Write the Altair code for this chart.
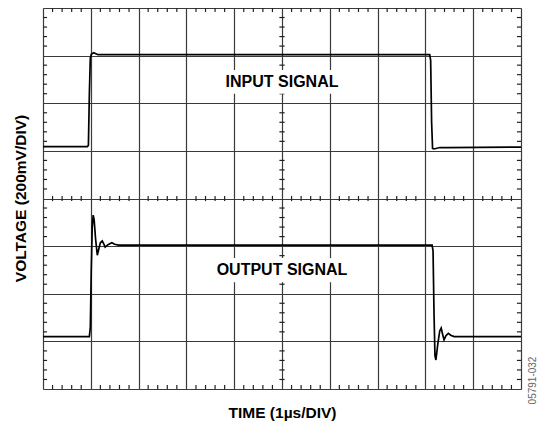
import altair as alt
import pandas as pd

# Input trace: time (divisions), voltage (divisions)
in_t = [0.0, 0.93, 0.95, 0.97, 0.99, 1.01, 1.06, 1.15, 8.09, 8.11, 8.13, 8.15, 8.18, 8.3, 8.45, 10.0]
in_v = [1.09, 1.09, 1.12, 2.2, 2.95, 3.03, 3.06, 3.02, 3.02, 2.9, 1.6, 1.05, 1.04, 1.07, 1.07, 1.08]

# Output trace
out_t = [0.0, 0.97, 0.99, 1.01, 1.03, 1.05, 1.07, 1.10, 1.136, 1.17, 1.20, 1.24, 1.27, 1.30, 1.36,
         1.44, 1.50, 1.58, 8.14, 8.16, 8.18, 8.20, 8.22, 8.26, 8.30, 8.33, 8.36, 8.39, 8.43, 8.48,
         8.53, 8.60, 10.0]
out_v = [-2.9, -2.9, -2.7, -1.5, -0.6, -0.35, -0.45, -0.85, -1.19, -1.05, -0.93, -0.89, -0.95, -1.02,
         -0.97, -0.93, -0.96, -0.98, -0.98, -1.1, -2.4, -3.3, -3.39, -3.05, -2.78, -2.72, -2.85, -2.97,
         -2.88, -2.83, -2.87, -2.9, -2.9]

label_text = ["INPUT SIGNAL", "OUTPUT SIGNAL"]
label_t = [5.0, 5.0]
label_v = [2.44, -1.5]
# white boxes behind the labels (data units)
box_t1 = [3.65, 3.55]
box_t2 = [6.35, 6.45]
box_v1 = [2.2, -1.25]
box_v2 = [2.7, -1.76]

x_major = list(range(0, 11))
y_major = list(range(-4, 5))

# minor graticule ticks (5 per division)
x_minor = [i / 5 for i in range(1, 50) if i % 5]
y_minor = [j / 5 for j in range(-19, 20) if j % 5]
L = 0.085   # edge tick length (div)
C = 0.055   # centre tick half-length (div)

rows = []
for x in x_minor:
    rows.append({"x": x, "x2": x, "y": 4, "y2": 4 - L})
    rows.append({"x": x, "x2": x, "y": -4, "y2": -4 + L})
    rows.append({"x": x, "x2": x, "y": -C, "y2": C})
for y in y_minor:
    rows.append({"x": 0, "x2": L, "y": y, "y2": y})
    rows.append({"x": 10, "x2": 10 - L, "y": y, "y2": y})
    rows.append({"x": 5 - C, "x2": 5 + C, "y": y, "y2": y})
ticks_df = pd.DataFrame(rows)

in_df = pd.DataFrame({"t": in_t, "v": in_v, "i": range(len(in_t))})
out_df = pd.DataFrame({"t": out_t, "v": out_v, "i": range(len(out_t))})
lab_df = pd.DataFrame({"t": label_t, "v": label_v, "text": label_text})
box_df = pd.DataFrame({"t1": box_t1, "t2": box_t2, "v1": box_v1, "v2": box_v2})

xs = alt.Scale(domain=[0, 10], nice=False)
ys = alt.Scale(domain=[-4, 4], nice=False)

FONT = "Liberation Sans"

grid_layer = alt.Chart(ticks_df).mark_rule(color="#222", strokeWidth=1.2).encode(
    x=alt.X("x:Q", scale=xs, axis=alt.Axis(
        values=x_major, grid=True, gridColor="#3a3a3a", gridWidth=1.2, gridOpacity=1,
        labels=False, ticks=False, domain=False,
        title="TIME (1µs/DIV)", titleFont=FONT, titleFontSize=15.5, titleFontWeight="bold",
        titleColor="#000", titleX=239, titleY=23, titleAlign="center", titleBaseline="middle")),
    x2="x2:Q",
    y=alt.Y("y:Q", scale=ys, axis=alt.Axis(
        values=y_major, grid=True, gridColor="#3a3a3a", gridWidth=1.2, gridOpacity=1,
        labels=False, ticks=False, domain=False,
        title="VOLTAGE (200mV/DIV)", titleFont=FONT, titleFontSize=15.5, titleFontWeight="bold",
        titleColor="#000", titleAngle=270, titleX=-23, titleY=190, titleAlign="center",
        titleBaseline="middle")),
    y2="y2:Q",
)

box_layer = alt.Chart(box_df).mark_rect(color="white").encode(
    x=alt.X("t1:Q", scale=xs, axis=None),
    x2="t2:Q",
    y=alt.Y("v1:Q", scale=ys, axis=None),
    y2="v2:Q",
)

in_layer = alt.Chart(in_df).mark_line(color="#000", strokeWidth=1.7).encode(
    x=alt.X("t:Q", scale=xs, axis=None),
    y=alt.Y("v:Q", scale=ys, axis=None),
    order="i:Q",
)

out_layer = alt.Chart(out_df).mark_line(color="#000", strokeWidth=1.7).encode(
    x=alt.X("t:Q", scale=xs, axis=None),
    y=alt.Y("v:Q", scale=ys, axis=None),
    order="i:Q",
)

lab_layer = alt.Chart(lab_df).mark_text(
    font=FONT, fontSize=16, fontWeight="bold", color="#000", align="center", baseline="middle"
).encode(
    x=alt.X("t:Q", scale=xs, axis=None),
    y=alt.Y("v:Q", scale=ys, axis=alt.Axis(
        orient="right", labels=False, ticks=False, domain=False, grid=False,
        title="05791-032", titleFont=FONT, titleFontSize=10, titleFontWeight="normal",
        titleColor="#666", titleAngle=270, titleX=11, titleY=372, titleAlign="center",
        titleBaseline="middle")),
    text="text:N",
)

chart = alt.layer(grid_layer, box_layer, in_layer, out_layer, lab_layer).resolve_axis(
    y="independent", x="independent"
).properties(
    width=478, height=381,
    autosize=alt.AutoSizeParams(type="none"),
    padding={"left": 35, "top": 0, "right": 16, "bottom": 36},
).configure_view(
    stroke="#000", strokeWidth=2
).configure(background="white")

chart.save("out.html", embed_options={"renderer": "svg", "actions": False})
